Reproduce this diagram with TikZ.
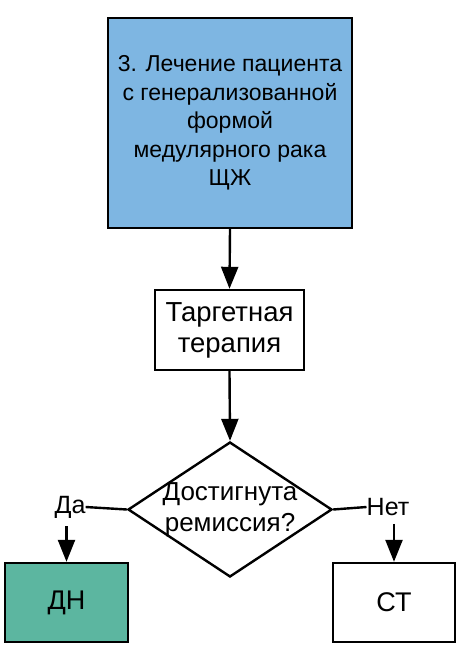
\documentclass[tikz,border=0pt]{standalone}
\usepackage{fontspec}
\setmainfont{Liberation Sans}
\usetikzlibrary{arrows.meta,positioning,shapes,calc}
\definecolor{boxblue}{RGB}{126,182,226}
\definecolor{boxteal}{RGB}{92,182,160}
\tikzset{
  blok/.style={draw,line width=2.4pt,align=center,inner sep=0pt,font=\fontsize{27.5}{31}\selectfont},
  conn/.style={line width=2.4pt},
  arr/.style={conn,-{Triangle[length=22pt,width=17pt]}},
  lbl/.style={inner sep=0pt,font=\fontsize{25}{30}\selectfont}
}
\begin{document}
\begin{tikzpicture}[x=1pt,y=1pt]
    \useasboundingbox (0,0) rectangle (461,-654);
    \node[blok,fill=boxblue,minimum width=244,minimum height=210,font=\fontsize{23}{28.5}\selectfont] (lech) at (230,-123)
      {3. Лечение пациента\\с генерализованной\\формой\\медулярного рака\\ЩЖ};
    \node[blok,minimum width=149,minimum height=80] (targ) at (229.5,-330)
      {Таргетная\\терапия};
    \node[draw,diamond,line width=2.4pt,minimum width=204,minimum height=135,inner sep=0pt] (remis) at (230,-509.5) {};
    \node[align=center,inner sep=0pt,font=\fontsize{26}{31}\selectfont] (remtext) at (remis) {Достигнута\\ремиссия?};
    \node[blok,fill=boxteal,minimum width=123,minimum height=79,font=\fontsize{27}{30}\selectfont] (dn) at (66.5,-602.5) {ДН};
    \node[blok,minimum width=122,minimum height=79,font=\fontsize{27}{30}\selectfont] (st) at (394,-602.5) {СТ};
    \node[lbl] (da) at (70,-507) {Да};
    \node[lbl] (net) at (388,-507) {Нет};
    \draw[conn] (remis.west) -- (da.east);
    \draw[conn] (remis.east) -- (net.west);
    \draw[arr] (lech.south) -- (targ.north);
    \draw[arr] (targ.south) -- (remis.north);
    \draw[arr] (da.south -| dn.north) ++(0,-8) -- (dn.north);
    \draw[arr] (net.south -| st.north) ++(0,-8) -- (st.north);
  \end{tikzpicture}
\end{document}
